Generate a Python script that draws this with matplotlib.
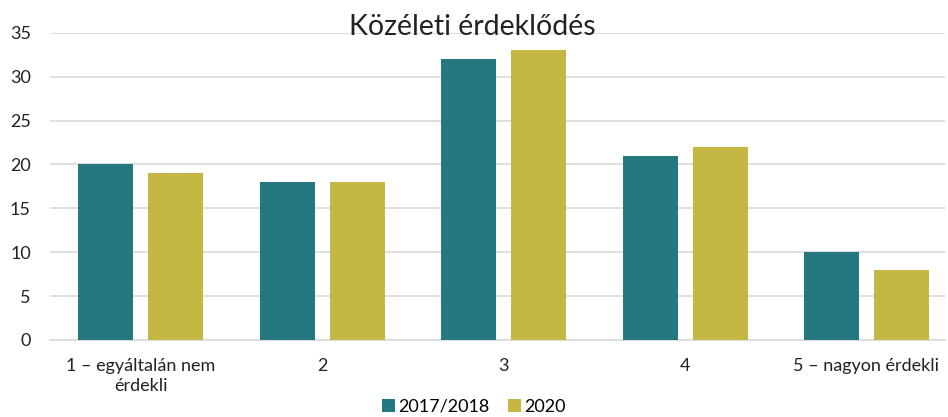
import matplotlib
matplotlib.use("Agg")
import matplotlib.pyplot as plt
import numpy as np

plt.rcParams['font.family'] = ['Lato', 'DejaVu Sans']

categories = ["1 – egyáltalán nem\nérdekli", "2", "3", "4", "5 – nagyon érdekli"]
series_names = ["2017/2018", "2020"]
values_2017 = [20, 18, 32, 21, 10]
values_2020 = [19, 18, 33, 22, 8]
colors = ["#267880", "#c5b743"]

fig = plt.figure(figsize=(9.48, 4.17), dpi=100)
ax = fig.add_axes([0.053, 0.185, 0.944, 0.736])

x = np.arange(len(categories))
w = 0.303
off = 0.193
ax.bar(x - off, values_2017, width=w, color=colors[0], label=series_names[0], zorder=3)
ax.bar(x + off, values_2020, width=w, color=colors[1], label=series_names[1], zorder=3)

ax.set_ylim(0, 35)
ax.set_yticks(range(0, 36, 5))
ax.set_xlim(-0.5, 4.434)
ax.set_xticks(x)
ax.set_xticklabels(categories, fontsize=13, color="#222222", linespacing=1.35)
ax.tick_params(axis='y', labelsize=13, colors="#222222", length=0, pad=14)
ax.tick_params(axis='x', length=0, pad=13)
ax.yaxis.grid(True, color="#d9d9d9", linewidth=1.2, zorder=0)
for s in ["top", "right", "left"]:
    ax.spines[s].set_visible(False)
ax.spines["bottom"].set_color("#d9d9d9")
ax.spines["bottom"].set_linewidth(1.2)

fig.text(0.498, 0.935, "Közéleti érdeklődés", ha="center", va="center", fontsize=20.5, color="#222222")

fig.legend(loc="center", bbox_to_anchor=(0.5, 0.025), ncol=2, frameon=False,
           fontsize=13, handlelength=0.7, handleheight=0.7, handletextpad=0.2,
           columnspacing=1.0)

fig.savefig("out.png", dpi=100)
